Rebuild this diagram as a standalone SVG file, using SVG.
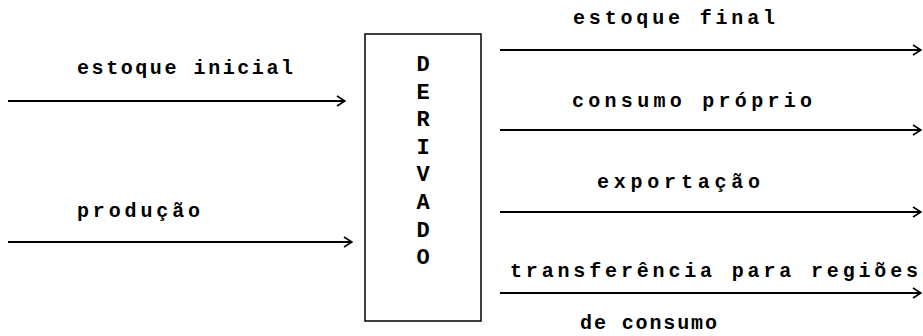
<svg xmlns="http://www.w3.org/2000/svg" width="923" height="336" viewBox="0 0 923 336">
<style>
.t{font-family:"Liberation Mono","DejaVu Sans Mono",monospace;font-size:20px;font-weight:bold;fill:#000;}
.c{font-family:"Liberation Mono","DejaVu Sans Mono",monospace;font-size:22px;font-weight:bold;fill:#000;text-anchor:middle;}
.l{stroke:#000;stroke-width:2;fill:none;}
.box{stroke:#000;stroke-width:1.5;fill:#fff;}
</style>
<defs>
<marker id="ah" markerWidth="10" markerHeight="12" refX="9" refY="6" orient="auto" markerUnits="userSpaceOnUse">
<polyline points="1,1 9,6 1,11" fill="none" stroke="#000" stroke-width="1.6"/>
</marker>
</defs>
<g id="derivado">
<rect class="box" x="365" y="34" width="116" height="287"/>
<text class="c" x="423" y="71">D</text>
<text class="c" x="423" y="99">E</text>
<text class="c" x="423" y="126">R</text>
<text class="c" x="423" y="154">I</text>
<text class="c" x="423" y="181">V</text>
<text class="c" x="423" y="209">A</text>
<text class="c" x="423" y="237">D</text>
<text class="c" x="423" y="264">O</text>
</g>
<g id="labels">
<text class="t" x="77" y="74" textLength="216" lengthAdjust="spacing">estoque inicial</text>
<text class="t" x="77" y="217" textLength="123" lengthAdjust="spacing">produção</text>
<text class="t" x="573" y="24" textLength="202" lengthAdjust="spacing">estoque final</text>
<text class="t" x="572" y="107" textLength="240" lengthAdjust="spacing">consumo próprio</text>
<text class="t" x="597" y="188" textLength="163" lengthAdjust="spacing">exportação</text>
<text class="t" x="510" y="277" textLength="408" lengthAdjust="spacing">transferência para regiões</text>
<text class="t" x="580" y="329" textLength="137" lengthAdjust="spacing">de consumo</text>
</g>
<g id="connectors">
<line class="l" x1="8" y1="101" x2="345" y2="101" marker-end="url(#ah)"/>
<line class="l" x1="8" y1="242" x2="352" y2="242" marker-end="url(#ah)"/>
<line class="l" x1="500" y1="50" x2="921" y2="50" marker-end="url(#ah)"/>
<line class="l" x1="500" y1="130" x2="921" y2="130" marker-end="url(#ah)"/>
<line class="l" x1="500" y1="212" x2="921" y2="212" marker-end="url(#ah)"/>
<line class="l" x1="500" y1="293" x2="921" y2="293" marker-end="url(#ah)"/>
</g>
</svg>
